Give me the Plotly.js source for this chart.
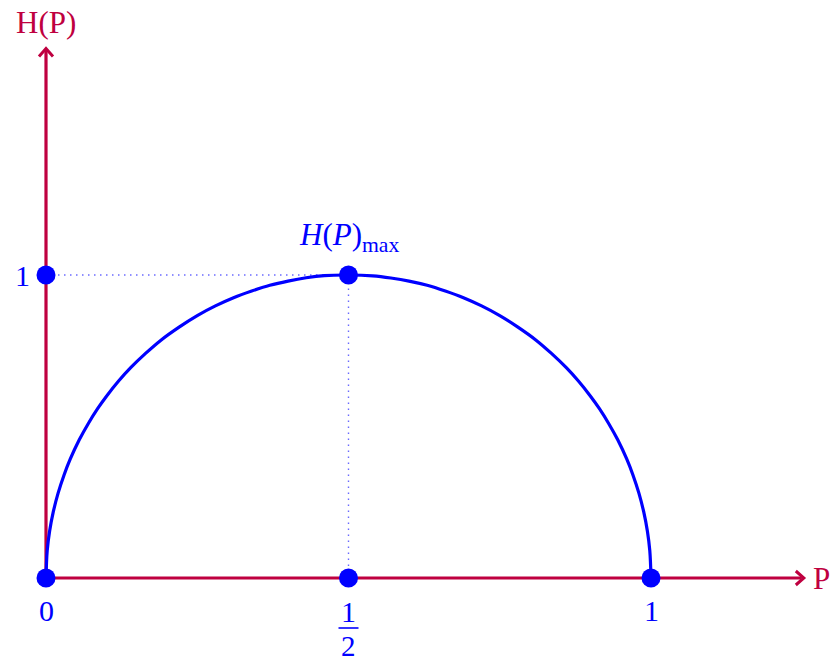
<!DOCTYPE html>
<html>
<head>
<meta charset="utf-8">
<script src="https://cdn.plot.ly/plotly-3.0.1.min.js"></script>
<style>html,body{margin:0;padding:0;background:#fff;}#chart{width:833px;height:664px;}</style>
</head>
<body>
<div id="chart"></div>
<script>
// Curve H(P)
const P = [0, 0.002, 0.006, 0.012, 0.02, 0.03, 0.04, 0.055, 0.07, 0.085, 0.1, 0.12, 0.14, 0.165, 0.19,
           0.22, 0.25, 0.28, 0.31, 0.34, 0.37, 0.4, 0.43, 0.46, 0.5,
           0.54, 0.57, 0.6, 0.63, 0.66, 0.69, 0.72, 0.75, 0.78, 0.81, 0.835, 0.86, 0.88, 0.9,
           0.915, 0.93, 0.945, 0.96, 0.97, 0.98, 0.988, 0.994, 0.998, 1];
const H = [0, 0.09, 0.155, 0.218, 0.28, 0.341, 0.392, 0.456, 0.51, 0.558, 0.6, 0.65, 0.694, 0.742, 0.785,
           0.828, 0.866, 0.898, 0.925, 0.947, 0.966, 0.98, 0.991, 0.998, 1,
           0.997, 0.99, 0.98, 0.966, 0.947, 0.925, 0.898, 0.866, 0.828, 0.785, 0.742, 0.694, 0.65, 0.6,
           0.558, 0.51, 0.456, 0.392, 0.341, 0.28, 0.218, 0.155, 0.09, 0];
// Key points
const keyP = [0, 0.5, 1, 0, 0.5];
const keyH = [0, 0, 0, 1, 1];
// Labels
const xTickVals = [0, 1];
const xTickText = ['0', '1'];
const yTickVals = [1];
const yTickText = ['1'];
const halfNum = '1', halfDen = '2';
const maxLabel = '<i>H</i>(<i>P</i>)<sub>max</sub>';
const xLabel = 'P', yLabel = 'H(P)';

const AX = '#BF0040', BL = '#0000FF';
const FONT = 'Liberation Serif, DejaVu Serif, serif';
const xEnd = 1.246, yEnd = 1.736;

const traces = [
  {x: [0, 0.5], y: [1, 1], mode: 'lines', line: {color: 'rgba(90,90,255,0.9)', width: 1.4, dash: '1.5px,4.5px'}, hoverinfo: 'skip'},
  {x: [0.5, 0.5], y: [0, 1], mode: 'lines', line: {color: 'rgba(90,90,255,0.9)', width: 1.4, dash: '1.5px,4.5px'}, hoverinfo: 'skip'},
  {x: P, y: H, mode: 'lines', line: {color: BL, width: 3.2, shape: 'spline', smoothing: 1}},
  {x: keyP, y: keyH, mode: 'markers', marker: {color: BL, size: 19}}
];

const annotations = [];
xTickVals.forEach((v, i) => annotations.push({x: v, y: 0, xref: 'x', yref: 'y', text: xTickText[i], showarrow: false, yshift: -32, font: {family: FONT, size: 30, color: BL}}));
yTickVals.forEach((v, i) => annotations.push({x: 0, y: v, xref: 'x', yref: 'y', text: yTickText[i], showarrow: false, xshift: -24, font: {family: FONT, size: 30, color: BL}}));
annotations.push({x: 0.5, y: 0, xref: 'x', yref: 'y', text: halfNum, showarrow: false, yshift: -33, font: {family: FONT, size: 30, color: BL}});
annotations.push({x: 0.5, y: 0, xref: 'x', yref: 'y', text: halfDen, showarrow: false, yshift: -68, font: {family: FONT, size: 29, color: BL}});
annotations.push({x: 0.5, y: 1, xref: 'x', yref: 'y', text: maxLabel, showarrow: false, yshift: 38, font: {family: FONT, size: 31, color: BL}});
annotations.push({x: xEnd, y: 0, xref: 'x', yref: 'y', text: xLabel, showarrow: false, xanchor: 'left', xshift: 11, font: {family: FONT, size: 31, color: AX}});
annotations.push({x: 0, y: yEnd, xref: 'x', yref: 'y', text: yLabel, showarrow: false, yanchor: 'bottom', yshift: 10, font: {family: FONT, size: 31, color: AX}});

const dx = 8 / 605, dy = 7 / 303, ex = 7 / 605, ey = 8 / 303;
const shapes = [
  {type: 'line', xref: 'x', yref: 'y', x0: 0, y0: 0, x1: xEnd + 0.003, y1: 0, line: {color: AX, width: 3.2}, layer: 'below'},
  {type: 'line', xref: 'x', yref: 'y', x0: 0, y0: 0, x1: 0, y1: yEnd + 0.005, line: {color: AX, width: 3.2}, layer: 'below'},
  {type: 'path', xref: 'x', yref: 'y', path: `M ${xEnd + 0.0066 - dx},${dy} L ${xEnd + 0.0066},0 L ${xEnd + 0.0066 - dx},${-dy}`, line: {color: AX, width: 3}, layer: 'below'},
  {type: 'path', xref: 'x', yref: 'y', path: `M ${-ex},${yEnd + 0.0116 - ey} L 0,${yEnd + 0.0116} L ${ex},${yEnd + 0.0116 - ey}`, line: {color: AX, width: 3}, layer: 'below'},
  {type: 'line', xref: 'x', yref: 'y', xsizemode: 'pixel', ysizemode: 'pixel', xanchor: 0.5, yanchor: 0, x0: -10, x1: 10, y0: -50, y1: -50, line: {color: BL, width: 1.6}}
];

const layout = {
  width: 833, height: 664,
  margin: {l: 0, r: 0, t: 0, b: 0},
  paper_bgcolor: '#fff', plot_bgcolor: '#fff',
  showlegend: false,
  xaxis: {range: [-46 / 605, 787 / 605], visible: false, fixedrange: true},
  yaxis: {range: [-86 / 303, 578 / 303], visible: false, fixedrange: true},
  annotations: annotations,
  shapes: shapes
};

Plotly.newPlot('chart', traces, layout, {displayModeBar: false, staticPlot: true});
</script>
</body>
</html>
